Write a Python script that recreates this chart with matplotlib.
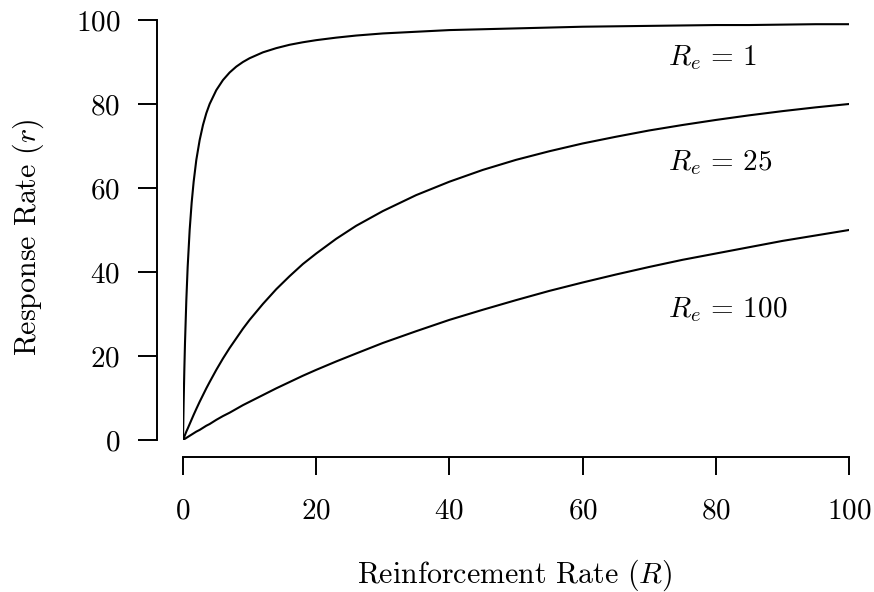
import numpy as np
import matplotlib
matplotlib.use('Agg')
import matplotlib.pyplot as plt

plt.rcParams['font.family'] = 'serif'
plt.rcParams['font.serif'] = ['cmr10']
plt.rcParams['mathtext.fontset'] = 'cm'
plt.rcParams['axes.formatter.use_mathtext'] = True

# 强化率 R 与三条曲线的反应率
R = [0, 0.1, 0.2, 0.3, 0.5, 0.7, 1, 1.3, 1.6, 2, 2.5, 3, 3.5, 4, 5, 6, 7, 8, 9, 10,
     12, 14, 16, 18, 20, 23, 26, 30, 35, 40, 45, 50, 55, 60, 65, 70, 75, 80, 85, 90, 95, 100]
r_re1 = [0, 9.1, 16.7, 23.1, 33.3, 41.2, 50, 56.5, 61.5, 66.7, 71.4, 75, 77.8, 80, 83.3, 85.7, 87.5, 88.9, 90, 90.9,
         92.3, 93.3, 94.1, 94.7, 95.2, 95.8, 96.3, 96.8, 97.2, 97.6, 97.8, 98, 98.2, 98.4, 98.5, 98.6, 98.7, 98.8, 98.8, 98.9, 99, 99]
r_re25 = [0, 0.4, 0.8, 1.2, 2.0, 2.7, 3.8, 4.9, 6.0, 7.4, 9.1, 10.7, 12.3, 13.8, 16.7, 19.4, 21.9, 24.2, 26.5, 28.6,
          32.4, 35.9, 39.0, 41.9, 44.4, 47.9, 51.0, 54.5, 58.3, 61.5, 64.3, 66.7, 68.75, 70.6, 72.2, 73.7, 75, 76.2, 77.3, 78.3, 79.2, 80]
r_re100 = [0, 0.1, 0.2, 0.3, 0.5, 0.7, 1.0, 1.3, 1.6, 2.0, 2.4, 2.9, 3.4, 3.8, 4.8, 5.7, 6.5, 7.4, 8.3, 9.1,
           10.7, 12.3, 13.8, 15.3, 16.7, 18.7, 20.6, 23.1, 25.9, 28.6, 31.0, 33.3, 35.5, 37.5, 39.4, 41.2, 42.9, 44.4, 45.9, 47.4, 48.7, 50]
labels = [r'$R_e\,=\,1$', r'$R_e\,=\,25$', r'$R_e\,=\,100$']
label_y = [91, 66, 31]

fig = plt.figure(figsize=(8.74, 5.92), dpi=100)
ax = fig.add_axes([183/874, 152/592, 666/874, 420/592])

for ys in [r_re1, r_re25, r_re100]:
    ax.plot(R, ys, color='black', lw=1.5)
for lab, yy in zip(labels, label_y):
    ax.text(72.8, yy, lab, fontsize=21, ha='left', va='center')

ax.set_xlim(0, 100)
ax.set_ylim(0, 100)
ax.set_xticks([0, 20, 40, 60, 80, 100])
ax.set_yticks([0, 20, 40, 60, 80, 100])
ax.spines['top'].set_visible(False)
ax.spines['right'].set_visible(False)
ax.spines['left'].set_position(('outward', 18.7))
ax.spines['bottom'].set_position(('outward', 12.2))
ax.spines['left'].set_bounds(0, 100)
ax.spines['bottom'].set_bounds(0, 100)
for s in ['left', 'bottom']:
    ax.spines[s].set_linewidth(1.4)
ax.tick_params(axis='y', length=13.5, width=1.4, pad=13, labelsize=21)
ax.tick_params(axis='x', length=13, width=1.4, pad=17, labelsize=21)

fig.text(515/874, 1 - 575/592, r'Reinforcement Rate $(R)$', fontsize=21.5, ha='center', va='center')
fig.text(28/874, 1 - 237/592, r'Response Rate $(r)$', fontsize=21.5, ha='center', va='center', rotation=90)

fig.savefig('out.png', dpi=100)
